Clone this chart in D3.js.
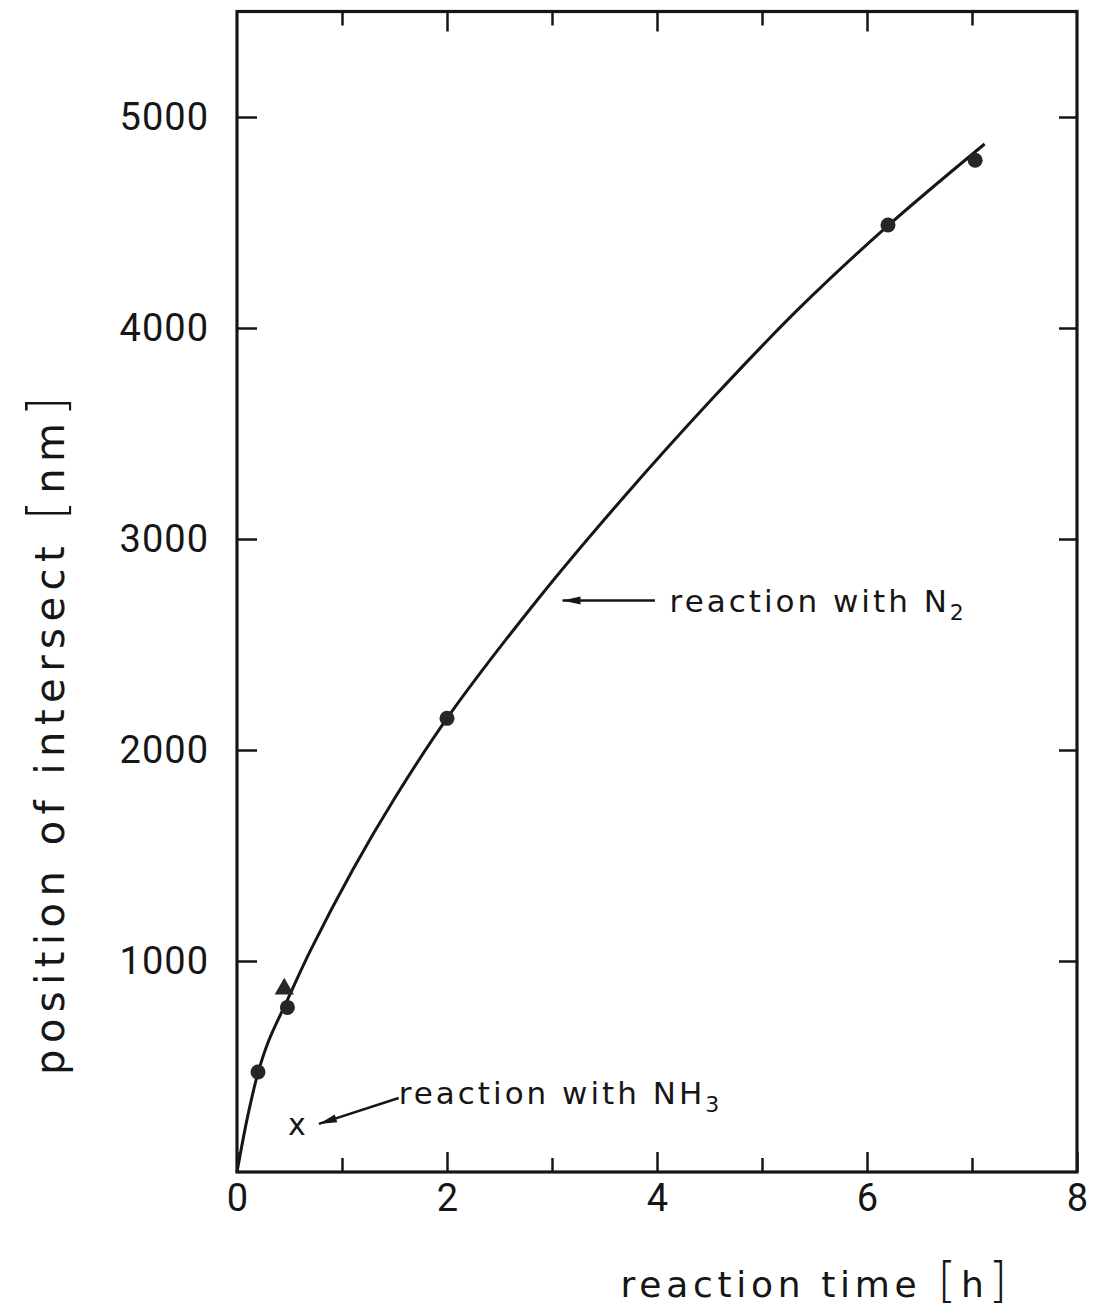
<!DOCTYPE html>
<html>
<head>
<meta charset="utf-8">
<script src="https://cdn.jsdelivr.net/npm/d3@7"></script>
<style>
  html, body { margin: 0; padding: 0; background: #fff; }
  svg { display: block; }
  text { font-family: "DejaVu Sans", sans-serif; fill: #161616; }
  .num { font-family: Roboto, "DejaVu Sans", sans-serif; }
</style>
</head>
<body>
<svg id="chart" width="1095" height="1313"></svg>
<script>
// Reaction with N2: measured positions of the intersect
const n2Time = [0.2, 0.48, 2.0, 6.2, 7.03];
const n2Pos = [474, 780, 2150, 4488, 4795];
// Single triangle measurement
const triTime = [0.45];
const triPos = [868];
// Reaction with NH3
const nh3Time = [0.57];
const nh3Pos = [223];
// Fitted growth curve through the N2 points
const curveTime = [0, 0.1, 0.2, 0.3, 0.48, 0.7, 1.1, 1.5, 2.0, 2.86, 3.66, 4.53, 5.37, 6.2, 7.12];
const curvePos = [0, 260, 470, 620, 815, 1050, 1430, 1770, 2150, 2711, 3185, 3667, 4101, 4485, 4872];
// Axis ticks
const xMajor = [0, 2, 4, 6, 8];
const xMinor = [1, 3, 5, 7];
const yMajor = [1000, 2000, 3000, 4000, 5000];

const svg = d3.select("#chart");
const plotLeft = 237, plotRight = 1077, plotTop = 11.5, plotBottom = 1172;

const x = d3.scaleLinear().domain([0, 8]).range([plotLeft, plotRight]);
const y = d3.scaleLinear().domain([0, 5500]).range([plotBottom, plotTop]);

const ink = "#161616";

// Frame
svg.append("rect")
  .attr("x", plotLeft).attr("y", plotTop)
  .attr("width", plotRight - plotLeft).attr("height", plotBottom - plotTop)
  .attr("fill", "none").attr("stroke", ink).attr("stroke-width", 3.2);

function styleAxis(g) {
  g.select(".domain").remove();
  g.selectAll(".tick line").attr("stroke", ink).attr("stroke-width", 2.5);
  g.selectAll(".tick text").attr("fill", ink).attr("class", "num");
}

// Bottom axis: labelled majors, shorter minors, ticks pointing inward
svg.append("g").attr("transform", `translate(0,${plotBottom})`)
  .call(d3.axisBottom(x).tickValues(xMajor).tickSizeInner(-20).tickSizeOuter(0).tickPadding(12).tickFormat(d3.format("d")))
  .call(styleAxis)
  .call(g => g.selectAll(".tick text").attr("font-size", 38).attr("dy", "0.71em"));
svg.append("g").attr("transform", `translate(0,${plotBottom})`)
  .call(d3.axisBottom(x).tickValues(xMinor).tickSizeInner(-14).tickSizeOuter(0).tickFormat(""))
  .call(styleAxis);

// Top axis ticks
svg.append("g").attr("transform", `translate(0,${plotTop})`)
  .call(d3.axisTop(x).tickValues(xMajor.filter(d => d > 0 && d < 8)).tickSizeInner(-20).tickSizeOuter(0).tickFormat(""))
  .call(styleAxis);
svg.append("g").attr("transform", `translate(0,${plotTop})`)
  .call(d3.axisTop(x).tickValues(xMinor).tickSizeInner(-14).tickSizeOuter(0).tickFormat(""))
  .call(styleAxis);

// Left axis with labels
svg.append("g").attr("transform", `translate(${plotLeft},0)`)
  .call(d3.axisLeft(y).tickValues(yMajor).tickSizeInner(-20).tickSizeOuter(0).tickPadding(28).tickFormat(d3.format("d")))
  .call(styleAxis)
  .call(g => g.selectAll(".tick text").attr("font-size", 38).attr("letter-spacing", 1));

// Right axis ticks
svg.append("g").attr("transform", `translate(${plotRight},0)`)
  .call(d3.axisRight(y).tickValues(yMajor).tickSizeInner(-18).tickSizeOuter(0).tickFormat(""))
  .call(styleAxis);

// Axis titles with tall brackets
const xTitle = svg.append("text")
  .attr("x", 1012).attr("y", 1297)
  .attr("text-anchor", "end")
  .attr("font-size", 36).attr("letter-spacing", 4.7);
xTitle.append("tspan").text("reaction time ");
xTitle.append("tspan").attr("font-size", 48).attr("font-weight", 200).text("[");
xTitle.append("tspan").text("h");
xTitle.append("tspan").attr("font-size", 48).attr("font-weight", 200).text("]");

const yTitle = svg.append("text")
  .attr("transform", "translate(64,1075) rotate(-90)")
  .attr("text-anchor", "start")
  .attr("font-size", 40).attr("letter-spacing", 6.5);
yTitle.append("tspan").text("position of intersect ");
yTitle.append("tspan").attr("font-size", 52).attr("font-weight", 200).text("[");
yTitle.append("tspan").text("nm");
yTitle.append("tspan").attr("font-size", 52).attr("font-weight", 200).text("]");

// Growth curve
const line = d3.line()
  .x(d => x(d[0])).y(d => y(d[1]))
  .curve(d3.curveCatmullRom.alpha(0.5));
svg.append("path")
  .datum(curveTime.map((t, i) => [t, curvePos[i]]))
  .attr("d", line)
  .attr("fill", "none").attr("stroke", ink).attr("stroke-width", 3);

// N2 points
svg.append("g").selectAll("circle")
  .data(n2Time.map((t, i) => [t, n2Pos[i]]))
  .join("circle")
  .attr("cx", d => x(d[0])).attr("cy", d => y(d[1]))
  .attr("r", 7.5).attr("fill", "#262626");

// Triangle point
svg.append("g").selectAll("path")
  .data(triTime.map((t, i) => [t, triPos[i]]))
  .join("path")
  .attr("transform", d => `translate(${x(d[0])},${y(d[1])})`)
  .attr("d", d3.symbol().type(d3.symbolTriangle).size(160))
  .attr("fill", "#262626");

// NH3 point drawn as an x
svg.append("g").selectAll("text")
  .data(nh3Time.map((t, i) => [t, nh3Pos[i]]))
  .join("text")
  .attr("x", d => x(d[0])).attr("y", d => y(d[1]))
  .attr("text-anchor", "middle").attr("dy", "0.35em")
  .attr("font-size", 30)
  .text("x");

// Annotations with arrows
function arrow(x1, y1, x2, y2) {
  const g = svg.append("g");
  g.append("line").attr("x1", x1).attr("y1", y1).attr("x2", x2).attr("y2", y2)
    .attr("stroke", ink).attr("stroke-width", 2.5);
  const ang = Math.atan2(y2 - y1, x2 - x1);
  const len = 18, half = 4;
  const bx = x2 - len * Math.cos(ang), by = y2 - len * Math.sin(ang);
  const px = -Math.sin(ang) * half, py = Math.cos(ang) * half;
  g.append("path")
    .attr("d", `M${x2},${y2}L${bx + px},${by + py}L${bx - px},${by - py}Z`)
    .attr("fill", ink);
}

arrow(x(3.98), y(2708), x(3.10), y(2708));
const n2Label = svg.append("text")
  .attr("x", x(4.12)).attr("y", y(2708) + 11)
  .attr("font-size", 31).attr("letter-spacing", 3);
n2Label.append("tspan").text("reaction with N");
n2Label.append("tspan").attr("font-size", 22).attr("dy", 8).text("2");

arrow(x(1.54), y(351), x(0.78), y(228));
const nh3Label = svg.append("text")
  .attr("x", x(1.54)).attr("y", y(374) + 11)
  .attr("font-size", 31).attr("letter-spacing", 3);
nh3Label.append("tspan").text("reaction with NH");
nh3Label.append("tspan").attr("font-size", 22).attr("dy", 8).text("3");
</script>
</body>
</html>
